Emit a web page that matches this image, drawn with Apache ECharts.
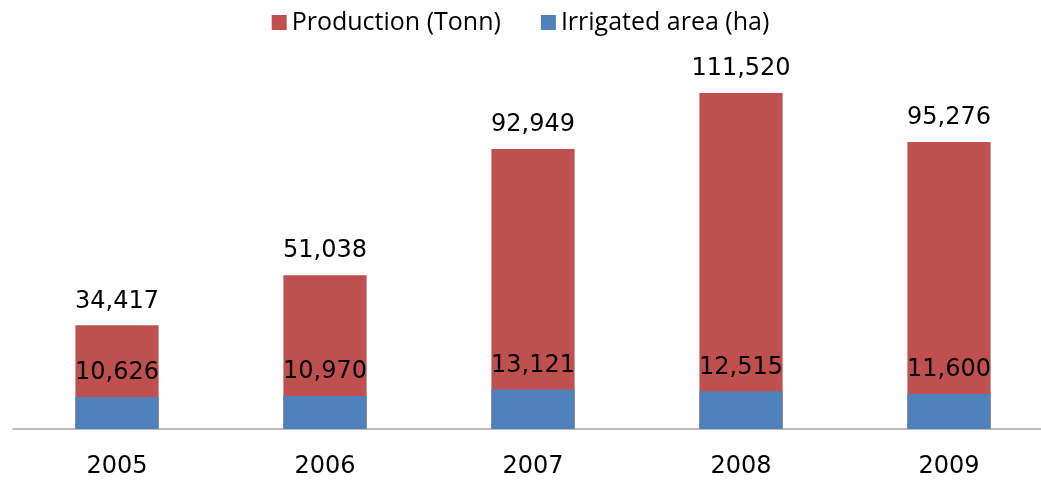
<!DOCTYPE html>
<html>
<head>
<meta charset="utf-8">
<style>
  html, body { margin: 0; padding: 0; background: #fff; }
  #chart { width: 1041px; height: 482px; }
</style>
<script src="https://cdn.jsdelivr.net/npm/echarts@6/dist/echarts.min.js"></script>
</head>
<body>
<div id="chart"></div>
<script>
// values
const years = ['2005', '2006', '2007', '2008', '2009']
const production = [34417, 51038, 92949, 111520, 95276]
const irrigated = [10626, 10970, 13121, 12515, 11600]

const fmt = p => p.value.toLocaleString('en-US')

const label = {
  show: true,
  position: 'top',
  distance: 12,
  color: '#000',
  fontFamily: 'DejaVu Sans',
  fontSize: 24,
  formatter: fmt
}

const chart = echarts.init(document.getElementById('chart'))
chart.setOption({
  animation: false,
  legend: {
    top: 5,
    left: 'center',
    icon: 'rect',
    itemWidth: 15,
    itemHeight: 15,
    itemGap: 40,
    textStyle: { fontFamily: 'Open Sans', fontSize: 25, color: '#000' },
    data: ['Production (Tonn)', 'Irrigated area (ha)']
  },
  grid: { left: 13, top: 67.4, width: 1040, height: 361.6, outerBoundsMode: 'none', containLabel: false },
  xAxis: {
    type: 'category',
    data: years,
    axisTick: { show: false },
    axisLine: { lineStyle: { color: '#a6a6a6', width: 1.5 } },
    axisLabel: { color: '#000', fontFamily: 'DejaVu Sans', fontSize: 24, margin: 26 }
  },
  yAxis: {
    type: 'value',
    min: 0,
    max: 120000,
    show: false,
    splitLine: { show: false }
  },
  series: [
    {
      name: 'Production (Tonn)',
      type: 'bar',
      data: production,
      barWidth: '40%',
      barGap: '-100%',
      itemStyle: { color: '#c0504d' },
      label: label
    },
    {
      name: 'Irrigated area (ha)',
      type: 'bar',
      data: irrigated,
      barWidth: '40%',
      itemStyle: { color: '#4f81bd' },
      label: label
    }
  ]
})
</script>
</body>
</html>
